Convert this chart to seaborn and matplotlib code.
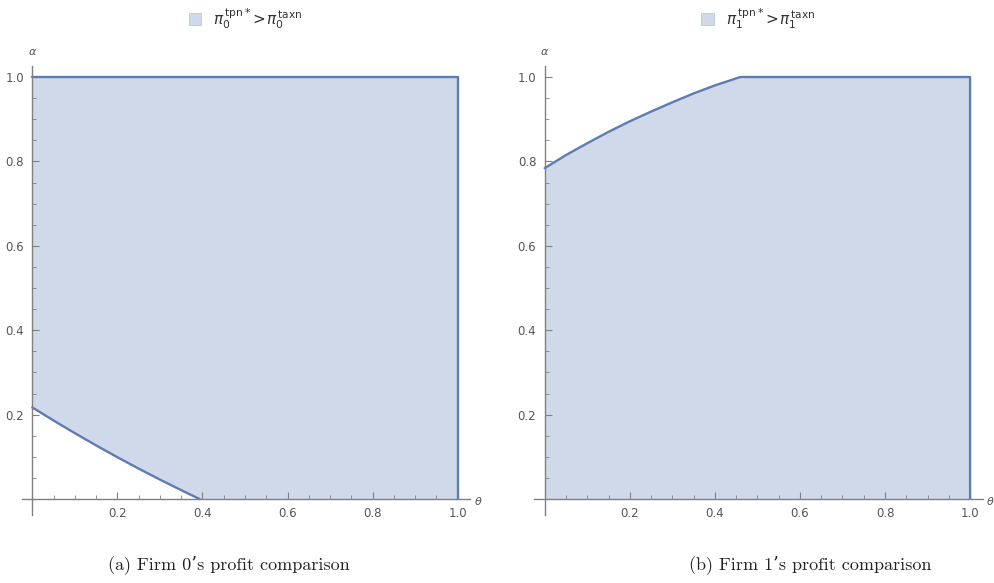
import numpy as np
import seaborn as sns
import matplotlib.pyplot as plt
from matplotlib.patches import Patch
from matplotlib.ticker import FixedLocator, MultipleLocator

# boundary curves
theta_firm0 = [0.0, 0.05, 0.10, 0.15, 0.20, 0.25, 0.30, 0.35, 0.393]
alpha_firm0 = [0.217, 0.186, 0.156, 0.127, 0.099, 0.072, 0.046, 0.021, 0.0]

theta_firm1 = [0.0, 0.05, 0.10, 0.15, 0.20, 0.25, 0.30, 0.35, 0.40, 0.46]
alpha_firm1 = [0.784, 0.815, 0.843, 0.870, 0.895, 0.918, 0.940, 0.961, 0.980, 1.0]

theta_max = 1.0
alpha_max = 1.0
major_ticks = [0.2, 0.4, 0.6, 0.8, 1.0]

legend_labels = [r'$\pi_0^{\,\mathrm{tpn*}}\!>\!\pi_0^{\,\mathrm{taxn}}$',
                 r'$\pi_1^{\,\mathrm{tpn*}}\!>\!\pi_1^{\,\mathrm{taxn}}$']
captions = ["(a) Firm 0\u2019s profit comparison", "(b) Firm 1\u2019s profit comparison"]

fill_color = '#cfd9ea'
edge_color = '#5b7db3'
axis_color = '#808080'
text_color = '#555555'

sns.set_theme(style='white')
plt.rcParams['font.family'] = ['DejaVu Sans']
plt.rcParams['mathtext.fontset'] = 'dejavusans'

W, H = 995, 583
fig = plt.figure(figsize=(W / 100, H / 100), dpi=100)

xlim = (-0.025, 1.03)
ylim = (-0.038, 1.025)
sx, sy = 425.4, 422.0
origin_y = 499.0


def make_axes(origin_x):
    left = origin_x + xlim[0] * sx
    width = (xlim[1] - xlim[0]) * sx
    bottom_px = origin_y - ylim[0] * sy
    height = (ylim[1] - ylim[0]) * sy
    return fig.add_axes([left / W, (H - bottom_px) / H, width / W, height / H])


def outline(ax, xs, ys):
    sns.lineplot(x=xs, y=ys, ax=ax, color=edge_color, lw=1.7, sort=False,
                 estimator=None, zorder=3)


def style_axes(ax):
    ax.set_xlim(*xlim)
    ax.set_ylim(*ylim)
    ax.set_axisbelow(False)
    for side in ['top', 'right']:
        ax.spines[side].set_visible(False)
    for side in ['left', 'bottom']:
        ax.spines[side].set_position(('data', 0))
        ax.spines[side].set_color(axis_color)
        ax.spines[side].set_linewidth(1.0)
        ax.spines[side].set_zorder(5)
    for axis in [ax.xaxis, ax.yaxis]:
        axis.set_major_locator(FixedLocator(major_ticks))
        axis.set_minor_locator(MultipleLocator(0.05))
    ax.xaxis.set_major_formatter(lambda v, p: f'{v:.1f}')
    ax.yaxis.set_major_formatter(lambda v, p: f'{v:.1f}')
    ax.tick_params(which='major', direction='in', length=5, width=0.8, color=axis_color,
                   labelsize=8.5, labelcolor=text_color, pad=6)
    ax.tick_params(which='minor', direction='in', length=3, width=0.6, color=axis_color)
    ax.tick_params(axis='x', which='both', bottom=True)
    ax.tick_params(axis='y', which='both', left=True)
    ax.set_xlabel('')
    ax.set_ylabel('')
    ax.patch.set_alpha(0)
    ax.text(0, 1.06, r'$\alpha$', fontsize=8, color=text_color, ha='center', va='center')
    ax.text(1.048, -0.004, r'$\theta$', fontsize=8, color=text_color, ha='center', va='center')


# Firm 0: region above the curve
ax0 = make_axes(32.3)
th0 = np.array(theta_firm0 + [theta_max])
al0 = np.array(alpha_firm0 + [0.0])
ax0.fill_between(th0, al0, alpha_max, color=fill_color, lw=0, zorder=1)
outline(ax0, theta_firm0, alpha_firm0)
outline(ax0, [0.0, theta_max, theta_max], [alpha_max, alpha_max, 0.0])
style_axes(ax0)

# Firm 1: region below the curve
ax1 = make_axes(544.7)
th1 = np.array(theta_firm1 + [theta_max])
al1 = np.array(alpha_firm1 + [alpha_max])
ax1.fill_between(th1, 0.0, al1, color=fill_color, lw=0, zorder=1)
outline(ax1, theta_firm1 + [theta_max, theta_max], alpha_firm1 + [alpha_max, 0.0])
style_axes(ax1)

for ax, lab in zip([ax0, ax1], legend_labels):
    handle = Patch(facecolor=fill_color, edgecolor='#b8c6de', lw=0.6)
    ax.legend([handle], [lab], loc='center', bbox_to_anchor=(0.5, 1.107), frameon=False,
              fontsize=11, handlelength=0.8, handleheight=0.8, handletextpad=0.8,
              labelcolor='#333333')

for cx, cap in zip([229, 810], captions):
    fig.text(cx / W, 1 - 565 / H, cap, family=['cmr10', 'DejaVu Serif'], fontsize=13,
             color='#222222', ha='center', va='center')

fig.savefig('out.png', dpi=100)
